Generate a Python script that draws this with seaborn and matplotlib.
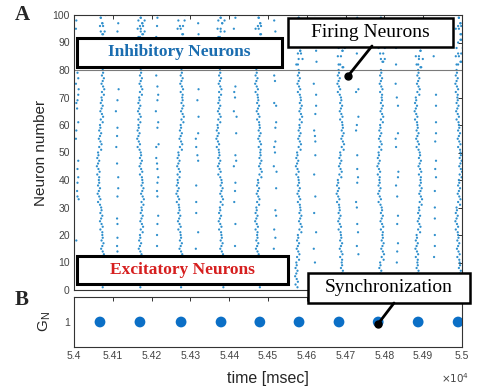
import pandas as pd
import matplotlib.pyplot as plt
from matplotlib.patches import Rectangle
from matplotlib.lines import Line2D
import seaborn as sns

# synchronous (dense) excitatory firing columns, ms
burst_t = [54067, 54170, 54273, 54376, 54474, 54577, 54686, 54789, 54887, 54990]
# wiggle of each column, ms, for neuron bands 1-10, 11-20, ..., 71-80
burst_shift = [
    [4, 6, 3, -3, -5, 0, 4, 7],
    [-2, 0, 4, 6, 2, -4, -2, 2],
    [0, 2, -2, -6, -4, 2, 6, 4],
    [6, 4, 0, 4, -2, -6, -2, 0],
    [2, -2, -4, 0, 6, 4, 0, -4],
    [-4, 0, 6, 2, -2, 4, 7, 2],
    [4, 2, -2, -6, 0, 6, 2, -4],
    [0, 6, 4, -2, -4, 0, 4, 2],
    [-2, -4, 2, 6, 4, -2, -6, 0],
    [4, 0, -4, 2, 6, 2, -2, -4],
]
# small zig-zag of the dots inside a column, ms (by last digit of neuron id)
stagger = [0, 3, -2, 4, 1, -3, 0, 3, -2, 1]

# sparse excitatory firing between the bursts
mid_t = [54008, 54111, 54214, 54317, 54415, 54518, 54621, 54729, 54832, 54930]
mid_ids = [
    [79, 77, 75, 73, 71, 69, 68, 66, 61, 58, 55, 47, 44, 41, 39, 36, 34, 33, 18],
    [73, 69, 65, 59, 56, 52, 46, 41, 37, 34, 26, 24, 19, 16, 14],
    [78, 74, 71, 69, 65, 61, 59, 53, 52, 48, 46, 44, 41, 39, 36, 34, 27, 24, 20, 16],
    [73, 69, 63, 57, 55, 52, 49, 47, 38, 32, 28, 21, 15],
    [74, 72, 70, 65, 63, 57, 49, 47, 45, 39, 36, 32, 24, 16],
    [78, 76, 68, 67, 61, 59, 54, 52, 50, 45, 43, 37, 29, 27, 22, 19, 15],
    [75, 71, 67, 64, 58, 56, 54, 49, 42, 34, 28, 21, 15, 10],
    [73, 72, 63, 60, 58, 49, 44, 41, 39, 32, 30, 24, 21, 16, 13],
    [75, 70, 67, 57, 55, 52, 43, 41, 38, 34, 27, 24, 17, 14, 10],
    [71, 67, 61, 57, 54, 47, 44, 41, 36, 30, 26, 20, 16, 12],
]

# inhibitory neurons (81-100) firing with each burst
inh_ids = [
    [81, 83, 86, 88, 91, 93, 94, 96, 97, 99, 100],
    [82, 84, 85, 87, 89, 92, 93, 94, 95, 96, 97, 98, 99],
    [81, 84, 86, 89, 91, 93, 95, 96, 98, 100],
    [82, 83, 85, 88, 90, 92, 94, 95, 97, 98, 99],
    [81, 83, 84, 86, 88, 91, 93, 95, 96, 97, 99, 100],
    [82, 84, 86, 87, 89, 91, 92, 94, 96, 97, 98, 99],
    [81, 82, 85, 87, 88, 90, 93, 94, 95, 97, 98, 100],
    [83, 84, 86, 88, 89, 91, 93, 94, 96, 98, 99],
    [81, 82, 84, 85, 87, 89, 91, 92, 94, 95, 97, 98, 100],
    [82, 83, 85, 86, 88, 90, 91, 93, 95, 96, 97, 99, 100],
]
inh_mid_ids = [
    [84, 90, 95, 98],
    [83, 89, 94, 97, 100],
    [86, 92, 96, 99],
    [82, 88, 93, 97],
    [85, 91, 95, 99],
    [84, 90, 94, 98],
    [83, 87, 92, 96, 100],
    [86, 90, 95, 99],
    [82, 88, 93, 97],
    [85, 89, 94, 98],
]

# panel B: synchronization events
sync_t = [54067, 54170, 54276, 54379, 54479, 54580, 54683, 54784, 54887, 54990]
sync_g = [1, 1, 1, 1, 1, 1, 1, 1, 1, 1]

xticks = [54000, 54100, 54200, 54300, 54400, 54500, 54600, 54700, 54800, 54900, 55000]
xticklabels = ['5.4', '5.41', '5.42', '5.43', '5.44', '5.45', '5.46', '5.47', '5.48', '5.49', '5.5']

# build the spike table
rows = []
for t, sh in zip(burst_t, burst_shift):
    for n in range(1, 81):
        rows.append((t + sh[(n - 1) // 10] + stagger[n % 10], n))
for t, ids in zip(mid_t, mid_ids):
    for n in ids:
        rows.append((t + stagger[n % 10], n))
for t, ids in zip(burst_t, inh_ids):
    for n in ids:
        rows.append((t + 2 * stagger[n % 10], n))
        rows.append((t + 2 * stagger[(n + 3) % 10] + 6, n))
for t, ids in zip(mid_t, inh_mid_ids):
    for n in ids:
        rows.append((t + stagger[n % 10], n))
spikes = pd.DataFrame(rows, columns=['t', 'neuron'])

sns.set_style('white')
plt.rcParams['font.family'] = ['Liberation Sans', 'DejaVu Sans']

W, H = 479, 390
fig = plt.figure(figsize=(W / 100, H / 100), dpi=100)
ax1 = fig.add_axes([74 / W, 1 - 290 / H, 388 / W, 275 / H])
ax2 = fig.add_axes([74 / W, 1 - 347 / H, 388 / W, 50 / H])

sns.scatterplot(data=spikes, x='t', y='neuron', s=2.6, color='#2f8fcc',
                edgecolor='none', ax=ax1, legend=False)
ax1.axhline(80, color='#7a7a7a', lw=0.8)
ax1.set_xlim(54000, 55000)
ax1.set_ylim(0, 100)
ax1.set_xticks(xticks)
ax1.set_xticklabels([])
ax1.set_yticks(range(0, 101, 10))
ax1.set_xlabel('')
ax1.set_ylabel('Neuron number', fontsize=11, labelpad=3)

sns.scatterplot(x=sync_t, y=sync_g, s=60, color='#0b6fc6',
                edgecolor='none', ax=ax2, legend=False)
ax2.set_xlim(54000, 55000)
ax2.set_ylim(0.5, 1.5)
ax2.set_yticks([1])
ax2.set_xticks(xticks)
ax2.set_xticklabels(xticklabels)
ax2.set_xlabel('time [msec]', fontsize=11.5, labelpad=7)
ax2.set_ylabel('$\\mathregular{G_N}$', fontsize=11, labelpad=8)

for ax in (ax1, ax2):
    ax.tick_params(direction='in', top=True, right=True, length=3,
                   width=0.7, color='#333333', labelcolor='#444444',
                   labelsize=7.5, pad=3)
    for sp in ax.spines.values():
        sp.set_visible(True)
        sp.set_color('#333333')
        sp.set_linewidth(0.8)

fig.text(455 / W, 1 - 378 / H, '$\\times10^4$', fontsize=7.5, color='#444444',
         ha='center', va='center')


def fx(x):
    return x / W


def fy(y):
    return 1 - y / H


def label_box(x0, y0, x1, y1, text, color, weight, size, lw):
    fig.patches.append(Rectangle((fx(x0), fy(y1)), fx(x1) - fx(x0), fy(y0) - fy(y1),
                                 transform=fig.transFigure, facecolor='white',
                                 edgecolor='black', linewidth=lw, zorder=5))
    fig.text(fx((x0 + x1) / 2), fy((y0 + y1) / 2), text, color=color,
             fontsize=size, fontweight=weight, ha='center', va='center',
             family='Liberation Serif', zorder=6)


def pointer(xa, ya, xb, yb):
    fig.lines.append(Line2D([fx(xa), fx(xb)], [fy(ya), fy(yb)], color='black',
                            lw=2, transform=fig.transFigure, zorder=7))
    fig.lines.append(Line2D([fx(xb)], [fy(yb)], marker='o', markersize=5,
                            color='black', transform=fig.transFigure, zorder=7))


label_box(77, 38, 282, 67, 'Inhibitory Neurons', '#1a6db0', 'bold', 12.5, 2.2)
label_box(77, 256, 288, 284, 'Excitatory Neurons', '#d61f1f', 'bold', 12.5, 2.2)
pointer(372, 46, 348, 76)
label_box(288, 18, 453, 47, 'Firing Neurons', 'black', 'normal', 14, 1.8)
pointer(394, 303, 378, 324)
label_box(308, 273, 470, 303, 'Synchronization', 'black', 'normal', 14, 1.8)

fig.text(fx(22), fy(15), 'A', fontsize=15, fontweight='bold', family='Liberation Serif',
         ha='center', va='center')
fig.text(fx(22), fy(300), 'B', fontsize=15, fontweight='bold', family='Liberation Serif',
         ha='center', va='center')

fig.savefig('out.png', dpi=100)
